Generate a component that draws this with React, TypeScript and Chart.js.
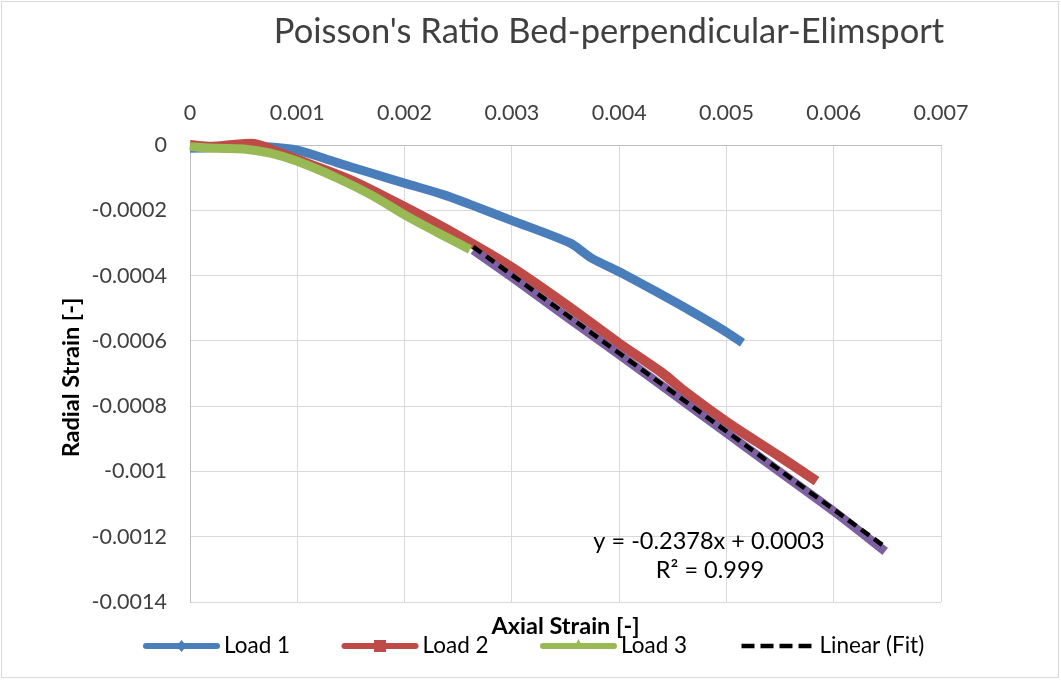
import React, { useEffect, useRef } from 'react';
import { Chart, registerables } from 'chart.js';

Chart.register(...registerables);

// ---- Data ----
const chartTitle = "Poisson's Ratio Bed-perpendicular-Elimsport";
const xAxisTitle = 'Axial Strain [-]';
const yAxisTitle = 'Radial Strain [-]';

const xTickValues = [0, 0.001, 0.002, 0.003, 0.004, 0.005, 0.006, 0.007];
const xTickLabels = ['0', '0.001', '0.002', '0.003', '0.004', '0.005', '0.006', '0.007'];
const yTickValues = [0, -0.0002, -0.0004, -0.0006, -0.0008, -0.001, -0.0012, -0.0014];
const yTickLabels = ['0', '-0.0002', '-0.0004', '-0.0006', '-0.0008', '-0.001', '-0.0012', '-0.0014'];

const load1X = [0, 0.00025, 0.0005, 0.00075, 0.001, 0.00137, 0.00168, 0.00199, 0.00236, 0.00261, 0.00299, 0.00354, 0.00368, 0.00375, 0.00404, 0.00436, 0.00466, 0.00497, 0.00515];
const load1Y = [-0.00001, -0.000008, -0.000005, -0.000006, -0.000016, -0.000054, -0.000085, -0.000116, -0.000152, -0.000182, -0.00023, -0.0003, -0.000332, -0.000348, -0.000395, -0.000452, -0.000507, -0.000567, -0.000606];

const load2X = [0, 0.0002, 0.0004, 0.0006, 0.0008, 0.001, 0.0015, 0.002, 0.0025, 0.003, 0.0035, 0.004, 0.0044, 0.0046, 0.005, 0.0055, 0.00584];
const load2Y = [0, -0.000005, 0, 0.000003, -0.00002, -0.000045, -0.000108, -0.00019, -0.000278, -0.000375, -0.000488, -0.000608, -0.000698, -0.000752, -0.000848, -0.000955, -0.00103];

const load3X = [0, 0.00025, 0.0005, 0.00075, 0.001, 0.00137, 0.0017, 0.002, 0.0023, 0.00261];
const load3Y = [-0.000005, -0.00001, -0.000012, -0.000025, -0.00005, -0.000101, -0.000155, -0.000214, -0.000267, -0.00032];

const fitX = [0.00264, 0.003, 0.0035, 0.004, 0.0045, 0.005, 0.0055, 0.006, 0.00648];
const fitY = [-0.000322, -0.000405, -0.000524, -0.000642, -0.000762, -0.000882, -0.001002, -0.001122, -0.001245];

const trendX = [0.00264, 0.00649];
const trendY = [-0.000312, -0.001234];

const equationLines = ['y = -0.2378x + 0.0003', 'R² = 0.999'];

const legendLabels = ['Load 1', 'Load 2', 'Load 3', 'Linear (Fit)'];

const FONT = 'Lato, "Open Sans", sans-serif';

const toPoints = (xs: number[], ys: number[]) => xs.map((x, i) => ({ x, y: ys[i] }));

const overlayPlugin = {
  id: 'overlay',
  beforeDraw(chart: any) {
    const { ctx } = chart;
    ctx.save();
    ctx.fillStyle = '#ffffff';
    ctx.fillRect(0, 0, chart.width, chart.height);
    ctx.strokeStyle = '#D9D9D9';
    ctx.lineWidth = 1;
    ctx.strokeRect(1.5, 1.5, chart.width - 4, chart.height - 4);
    ctx.restore();
  },
  afterDraw(chart: any) {
    const { ctx, chartArea } = chart;
    ctx.save();
    // Title
    ctx.fillStyle = '#404040';
    ctx.font = `34.5px ${FONT}`;
    ctx.textAlign = 'center';
    ctx.textBaseline = 'middle';
    ctx.fillText(chartTitle, 609, 32);

    // Axis titles
    ctx.fillStyle = '#000000';
    ctx.font = `bold 23.5px ${FONT}`;
    ctx.fillText(xAxisTitle, (chartArea.left + chartArea.right) / 2, 626);
    ctx.save();
    ctx.translate(71, (chartArea.top + chartArea.bottom) / 2 + 4);
    ctx.rotate(-Math.PI / 2);
    ctx.fillText(yAxisTitle, 0, 0);
    ctx.restore();

    // Trendline equation
    ctx.font = `23.5px ${FONT}`;
    ctx.fillStyle = '#000000';
    ctx.fillText(equationLines[0], 709, 541);
    ctx.fillText(equationLines[1], 710, 570);

    // Legend
    const datasets = chart.data.datasets.filter((d: any) => d.inLegend);
    const y = 646;
    datasets.forEach((d: any, i: number) => {
      const x0 = 146 + i * 198.5;
      const x1 = x0 + 71;
      ctx.save();
      ctx.strokeStyle = d.borderColor;
      ctx.fillStyle = d.borderColor;
      if (d.borderDash && d.borderDash.length) {
        ctx.lineWidth = 4.5;
        ctx.setLineDash([13, 6]);
        ctx.lineCap = 'butt';
      } else {
        ctx.lineWidth = 6;
        ctx.lineCap = 'round';
      }
      ctx.beginPath();
      ctx.moveTo(x0, y);
      ctx.lineTo(x1, y);
      ctx.stroke();
      ctx.setLineDash([]);
      const cx = (x0 + x1) / 2;
      if (d.legendMarker === 'diamond') {
        ctx.beginPath();
        ctx.moveTo(cx, y - 6);
        ctx.lineTo(cx + 5, y);
        ctx.lineTo(cx, y + 6);
        ctx.lineTo(cx - 5, y);
        ctx.closePath();
        ctx.fill();
      } else if (d.legendMarker === 'square') {
        ctx.fillRect(cx - 6, y - 6, 12, 12);
      } else if (d.legendMarker === 'triangle') {
        ctx.beginPath();
        ctx.moveTo(cx, y - 7);
        ctx.lineTo(cx + 5, y + 3);
        ctx.lineTo(cx - 5, y + 3);
        ctx.closePath();
        ctx.fill();
      }
      ctx.restore();
      ctx.fillStyle = '#000000';
      ctx.font = `22.5px ${FONT}`;
      ctx.textAlign = 'left';
      ctx.textBaseline = 'middle';
      ctx.fillText(d.label, x1 + 7, y);
    });
    ctx.restore();
  },
};

export default function App() {
  const canvasRef = useRef<HTMLCanvasElement | null>(null);

  useEffect(() => {
    if (!canvasRef.current) return;
    const common = {
      showLine: true,
      pointRadius: 0,
      pointHoverRadius: 0,
      borderJoinStyle: 'round',
      borderCapStyle: 'butt',
      tension: 0.3,
      clip: false,
    };
    const chart = new Chart(canvasRef.current, {
      type: 'scatter',
      data: {
        datasets: [
          {
            ...common,
            label: legendLabels[0],
            data: toPoints(load1X, load1Y),
            borderColor: '#4A7EBB',
            backgroundColor: '#4A7EBB',
            borderWidth: 9,
            order: 5,
            inLegend: true,
            legendMarker: 'diamond',
          },
          {
            ...common,
            label: legendLabels[1],
            data: toPoints(load2X, load2Y),
            borderColor: '#BE4B48',
            backgroundColor: '#BE4B48',
            borderWidth: 10,
            order: 4,
            inLegend: true,
            legendMarker: 'square',
          },
          {
            ...common,
            label: legendLabels[2],
            data: toPoints(load3X, load3Y),
            borderColor: '#98B954',
            backgroundColor: '#98B954',
            borderWidth: 9,
            order: 3,
            inLegend: true,
            legendMarker: 'triangle',
          },
          {
            ...common,
            label: 'Fit',
            data: toPoints(fitX, fitY),
            borderColor: '#7D60A0',
            backgroundColor: '#7D60A0',
            borderWidth: 9,
            order: 2,
            inLegend: false,
          },
          {
            ...common,
            tension: 0,
            label: legendLabels[3],
            data: toPoints(trendX, trendY),
            borderColor: '#000000',
            backgroundColor: '#000000',
            borderWidth: 4.5,
            borderDash: [10, 6],
            order: 1,
            inLegend: true,
          },
        ] as any,
      },
      options: {
        animation: false,
        responsive: false,
        devicePixelRatio: 1,
        layout: { padding: { left: 0, top: 0, right: 120, bottom: 78 } },
        plugins: {
          legend: { display: false },
          title: { display: false },
          tooltip: { enabled: false },
        },
        scales: {
          x: {
            type: 'linear',
            position: 'top',
            min: 0,
            max: 0.007,
            afterBuildTicks: (scale: any) => {
              scale.ticks = xTickValues.map((v) => ({ value: v }));
            },
            afterFit: (scale: any) => {
              scale.height = 145;
            },
            ticks: {
              callback: (_v: any, i: number) => xTickLabels[i],
              color: '#404040',
              font: { family: FONT, size: 21.5 },
              padding: 19,
              maxRotation: 0,
              autoSkip: false,
            },
            grid: { color: '#D9D9D9', lineWidth: 1, drawTicks: false },
            border: { display: true, color: '#BFBFBF', width: 1 },
          },
          y: {
            type: 'linear',
            position: 'left',
            min: -0.0014,
            max: 0,
            afterBuildTicks: (scale: any) => {
              scale.ticks = yTickValues.map((v) => ({ value: v }));
            },
            afterFit: (scale: any) => {
              scale.width = 190;
            },
            ticks: {
              callback: (_v: any, i: number) => yTickLabels[i],
              color: '#404040',
              font: { family: FONT, size: 21.5 },
              padding: 23,
              autoSkip: false,
            },
            grid: { color: '#D9D9D9', lineWidth: 1, drawTicks: false },
            border: { display: true, color: '#BFBFBF', width: 1 },
          },
        },
      } as any,
      plugins: [overlayPlugin],
    });
    return () => chart.destroy();
  }, []);

  return (
    <div style={{ position: 'fixed', left: 0, top: 0, width: 1061, height: 680, background: '#fff' }}>
      <canvas ref={canvasRef} width={1061} height={680} style={{ display: 'block', width: 1061, height: 680 }} />
    </div>
  );
}
